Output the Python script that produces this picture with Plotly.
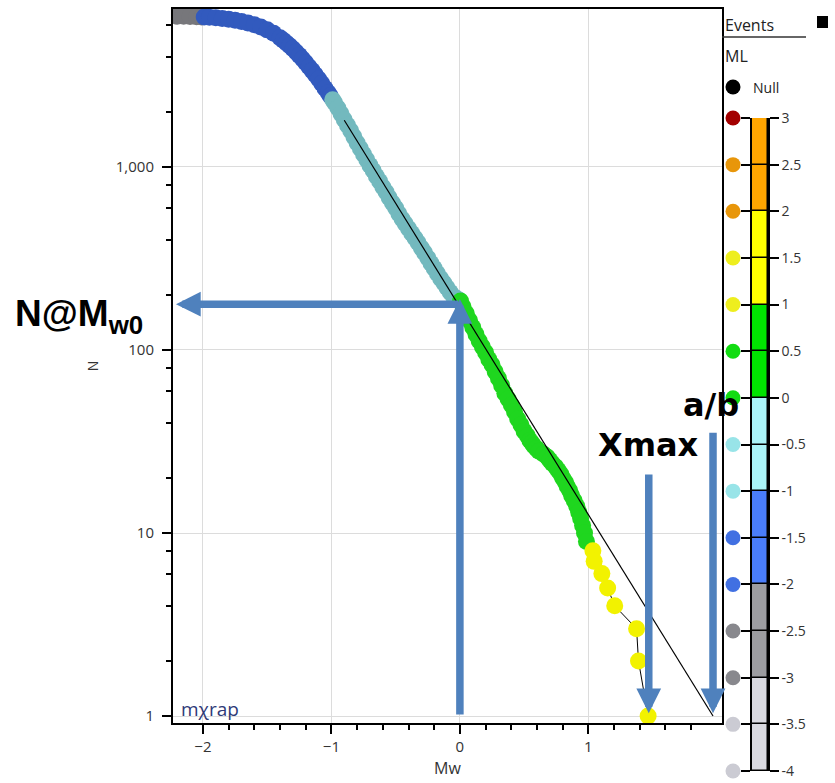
import math
import plotly.graph_objects as go

W, H = 835, 783

# ---------------- data ----------------
mw = [
    -2.20, -2.15, -2.10, -2.05, -2.01, -1.99, -1.95, -1.90, -1.85, -1.80,
    -1.75, -1.70, -1.65, -1.60, -1.55, -1.50, -1.45, -1.40, -1.375, -1.35,
    -1.325, -1.30, -1.275, -1.25, -1.225, -1.20, -1.175, -1.15, -1.125, -1.10,
    -1.075, -1.05, -1.025, -1.01,
    -0.99, -0.975, -0.95, -0.925, -0.90, -0.875, -0.85, -0.825, -0.80, -0.775,
    -0.75, -0.725, -0.70, -0.675, -0.65, -0.625, -0.60, -0.575, -0.55, -0.525,
    -0.50, -0.475, -0.45, -0.425, -0.40, -0.375, -0.35, -0.325, -0.30, -0.275,
    -0.25, -0.225, -0.20, -0.175, -0.15, -0.125, -0.10, -0.075, -0.05, -0.025,
    -0.005,
    0.005, 0.025, 0.05, 0.075, 0.10, 0.125, 0.15, 0.175, 0.20, 0.225,
    0.25, 0.275, 0.30, 0.325, 0.35, 0.375, 0.40, 0.425, 0.45, 0.475,
    0.50, 0.525, 0.545, 0.56, 0.575, 0.595, 0.615, 0.65, 0.68, 0.70,
    0.72, 0.745, 0.765, 0.785, 0.80, 0.82, 0.835, 0.855, 0.87, 0.89,
    0.91, 0.925, 0.94, 0.955, 0.97, 0.985,
    1.035, 1.045, 1.105, 1.15, 1.205, 1.375, 1.39, 1.465,
]
n_events = [
    6650, 6650, 6640, 6620, 6605, 6595, 6570, 6530, 6480, 6420,
    6340, 6240, 6120, 5980, 5810, 5610, 5370, 5080, 4920, 4760,
    4600, 4430, 4250, 4070, 3890, 3710, 3530, 3360, 3190, 3020,
    2860, 2690, 2540, 2450,
    2330, 2240, 2100, 1950, 1810, 1690, 1575, 1460, 1350, 1260,
    1175, 1095, 1020, 955, 890, 835, 778, 729, 679, 636,
    596, 555, 520, 490, 461, 434, 409, 385, 361, 340,
    318, 298, 280, 262, 246, 232, 219, 207, 196, 191,
    187,
    185, 172, 158, 145, 133, 122, 112, 104, 97, 89,
    83, 76, 70, 64, 58, 54, 50, 46, 42, 39,
    36, 34, 32, 31, 30, 29, 28, 27, 26, 25,
    24, 23, 22, 21, 20, 19, 18, 17, 16, 15,
    14, 13, 12, 11, 10, 9,
    8, 7, 6, 5, 4, 3, 2, 1,
]

fit_mw = [-0.90, 1.97]
fit_n = [1800.0, 1.0]

mw0 = 0.0
n_at_mw0 = 178
n_first_green = 190
xmax_mw = 1.47
xmax_top_n = 21.3
ab_mw = 1.97
ab_top_n = 36.0

x_ticks = [-2, -1, 0, 1]
x_minor = [-1.8, -1.6, -1.4, -1.2, -0.8, -0.6, -0.4, -0.2,
           0.2, 0.4, 0.6, 0.8, 1.2, 1.4, 1.6, 1.8]
y_ticks = [1, 10, 100, 1000]
y_tick_text = ["1", "10", "100", "1,000"]
y_minor = [2, 4, 6, 8, 20, 40, 60, 80, 200, 400, 600, 800, 2000, 4000, 6000]

ml_levels = [-4, -3.5, -3, -2.5, -2, -1.5, -1, -0.5, 0, 0.5, 1, 1.5, 2, 2.5, 3]
ml_labels = ["-4", "-3.5", "-3", "-2.5", "-2", "-1.5", "-1", "-0.5",
             "0", "0.5", "1", "1.5", "2", "2.5", "3"]

# ---------------- styles ----------------
chart_colors = ["#c9c9d0", "#77777b", "#325abe", "#73b9be", "#1fd61f", "#f2f200", "#e8960a"]
legend_colors = ["#d8d8df", "#9c9ca0", "#4a7dfa", "#aaf4f8", "#00e400", "#ffff00", "#ffa500"]
dot_palette = ["#cbcbd3", "#88888d", "#4170e2", "#98e4e8", "#12dc12", "#eeee1e", "#e8960a", "#a30000"]
arrow_color = "#4f81bd"
FONT = "Open Sans, Noto Sans, sans-serif"
BOLD = "DejaVu Sans, Verdana, sans-serif"
ARIAL = "Liberation Sans, Arial, sans-serif"


def fx(p):
    return p / W


def fy(p):
    return 1 - p / H


cs = []
for i, c in enumerate(chart_colors):
    cs.append([i / 7, c])
    cs.append([(i + 1) / 7, c])

fig = go.Figure()
fig.add_trace(go.Scatter(
    x=mw, y=n_events, mode="lines+markers",
    line=dict(color="black", width=1),
    marker=dict(size=17, color=mw, colorscale=cs, cmin=-4, cmax=3, line=dict(width=0)),
    showlegend=False, hoverinfo="x+y"))
fig.add_trace(go.Scatter(
    x=fit_mw, y=fit_n, mode="lines", line=dict(color="black", width=1.2),
    showlegend=False))

# legend colour bar
seg_base = ml_levels[:-1]
seg_colors = [legend_colors[int(math.floor(b)) + 4] for b in seg_base]
fig.add_trace(go.Bar(
    x=[0] * len(seg_base), y=[0.5] * len(seg_base), base=seg_base, width=1,
    marker=dict(color=seg_colors, line=dict(color="black", width=1.5)),
    xaxis="x2", yaxis="y2", showlegend=False, hoverinfo="skip"))
dot_colors = [dot_palette[int(math.floor(v)) + 4] for v in ml_levels]
fig.add_trace(go.Scatter(
    x=[0] * len(ml_levels), y=ml_levels, mode="markers",
    marker=dict(size=15, color=dot_colors, line=dict(width=0)),
    xaxis="x3", yaxis="y3", cliponaxis=False, showlegend=False, hoverinfo="skip"))

axis_common = dict(
    showline=True, linecolor="black", linewidth=2, mirror=True,
    ticks="outside", ticklen=9, tickwidth=1.5, tickcolor="black",
    showgrid=True, gridcolor="#dcdcdc", gridwidth=1, zeroline=False,
    tickfont=dict(family=FONT, size=15, color="#333"), automargin=False,
)

fig.update_layout(
    width=W, height=H, autosize=False,
    margin=dict(l=0, r=0, t=0, b=0, pad=0),
    paper_bgcolor="white", plot_bgcolor="white",
    font=dict(family=FONT, size=13, color="#333"),
    barmode="overlay", bargap=0,
    xaxis=dict(
        domain=[fx(173), fx(722)], range=[-2.233, 2.04],
        tickmode="array", tickvals=x_ticks,
        minor=dict(tickmode="array", tickvals=x_minor, ticks="outside", ticklen=5,
                   tickwidth=1.5, tickcolor="black", showgrid=False),
        title=dict(text="Mw", font=dict(family=FONT, size=16, color="#333"), standoff=8),
        anchor="y", **axis_common),
    yaxis=dict(
        domain=[fy(723), fy(9)], type="log", range=[-0.038, 3.863],
        tickmode="array", tickvals=y_ticks, ticktext=y_tick_text, ticklabelstandoff=5,
        minor=dict(tickmode="array", tickvals=y_minor, ticks="outside", ticklen=5,
                   tickwidth=1.5, tickcolor="black", showgrid=False),
        title=dict(text="N", font=dict(family=FONT, size=14, color="#333"), standoff=14),
        anchor="x", **axis_common),
    xaxis2=dict(domain=[fx(752), fx(768)], range=[-0.5, 0.5], anchor="y2",
                visible=False, fixedrange=True),
    yaxis2=dict(domain=[fy(771), fy(118)], range=[-4, 3], anchor="x2", side="right",
                tickmode="array", tickvals=ml_levels, ticktext=ml_labels,
                ticks="outside", ticklen=9, tickwidth=1.5, tickcolor="black",
                showline=True, linecolor="black", linewidth=1.5, mirror="allticks",
                showgrid=False, zeroline=False, automargin=False,
                tickfont=dict(family=FONT, size=14, color="#333")),
    xaxis3=dict(domain=[fx(725), fx(741)], range=[-1, 1], anchor="y3",
                visible=False, fixedrange=True),
    yaxis3=dict(domain=[fy(771), fy(118)], range=[-4, 3], anchor="x3",
                visible=False, fixedrange=True),
)

arrow_kw = dict(xref="x", yref="y", axref="x", ayref="y", showarrow=True, text="",
                arrowhead=2, arrowsize=0.66, arrowwidth=7.5, arrowcolor=arrow_color)
annotations = [
    dict(x=-2.21, y=math.log10(n_at_mw0), ax=mw0, ay=math.log10(n_at_mw0), **arrow_kw),
    dict(x=mw0, y=math.log10(n_first_green), ax=mw0, ay=0.0, **arrow_kw),
    dict(x=xmax_mw, y=0.015, ax=xmax_mw, ay=math.log10(xmax_top_n), **arrow_kw),
    dict(x=ab_mw, y=0.015, ax=ab_mw, ay=math.log10(ab_top_n), **arrow_kw),
    dict(x=fx(13), y=fy(316), xref="paper", yref="paper", xanchor="left", yanchor="middle",
         text="<b>N@M<sub>w0</sub></b>", showarrow=False,
         font=dict(family=ARIAL, size=37, color="black")),
    dict(x=fx(648), y=fy(445), xref="paper", yref="paper", xanchor="center", yanchor="middle",
         text="<b>Xmax</b>", showarrow=False, font=dict(family=BOLD, size=32, color="black")),
    dict(x=fx(711), y=fy(405), xref="paper", yref="paper", xanchor="center", yanchor="middle",
         text="<b>a/b</b>", showarrow=False, font=dict(family=BOLD, size=32, color="black")),
    dict(x=fx(179), y=fy(709), xref="paper", yref="paper", xanchor="left", yanchor="middle",
         text="mχrap", showarrow=False, font=dict(family=FONT, size=19, color="#2f3a78")),
    dict(x=fx(723), y=fy(25), xref="paper", yref="paper", xanchor="left", yanchor="middle",
         text="Events", showarrow=False, font=dict(family=FONT, size=16, color="#222")),
    dict(x=fx(723), y=fy(56), xref="paper", yref="paper", xanchor="left", yanchor="middle",
         text="ML", showarrow=False, font=dict(family=FONT, size=16, color="#222")),
    dict(x=fx(751), y=fy(88), xref="paper", yref="paper", xanchor="left", yanchor="middle",
         text="Null", showarrow=False, font=dict(family=FONT, size=14, color="#222")),
]
fig.update_layout(annotations=annotations)

shapes = [
    dict(type="line", xref="paper", yref="paper", x0=fx(722), x1=fx(806), y0=fy(37), y1=fy(37),
         line=dict(color="#333", width=1.5)),
    dict(type="rect", xref="paper", yref="paper", x0=fx(817), x1=fx(828), y0=fy(28), y1=fy(16),
         fillcolor="black", line=dict(width=0)),
    dict(type="circle", xref="paper", yref="paper", x0=fx(725.5), x1=fx(740.5), y0=fy(94.5), y1=fy(79.5),
         fillcolor="black", line=dict(width=0)),
]
fig.update_layout(shapes=shapes)

fig.write_html("out.html")
